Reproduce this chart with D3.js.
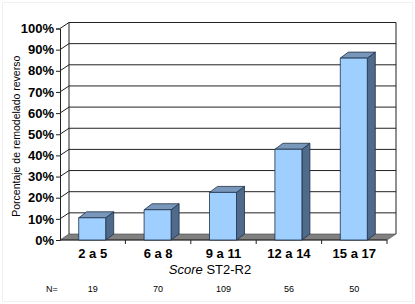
<!DOCTYPE html>
<html>
<head>
<meta charset="utf-8">
<script src="https://cdn.jsdelivr.net/npm/d3@7"></script>
<style>
  body { margin: 0; background: #fff; }
  svg text { font-family: Arial, "Liberation Sans", sans-serif; }
</style>
</head>
<body>
<div id="chart"></div>
<script>
// Data
const categories = ["2 a 5", "6 a 8", "9 a 11", "12 a 14", "15 a 17"];
const values = [0.105, 0.143, 0.225, 0.429, 0.86];
const counts = [19, 70, 109, 56, 50];
const yTicks = [0, 0.1, 0.2, 0.3, 0.4, 0.5, 0.6, 0.7, 0.8, 0.9, 1.0];

const W = 415, H = 304;
const plotLeft = 60, plotRight = 387, plotBottom = 240, plotTop = 28.5;
const wallDx = 9, wallDy = 6;   // depth of back wall
const barDx = 8, barDy = 6;     // depth of bars
const barW = 27;

const svg = d3.select("#chart").append("svg")
    .attr("width", W).attr("height", H);

// faint frame
svg.append("rect")
    .attr("x", 2.5).attr("y", 2.5).attr("width", W - 5).attr("height", H - 5)
    .attr("fill", "none").attr("stroke", "#f0f0f0");

const x = d3.scaleBand().domain(categories).range([plotLeft, plotRight]);
const y = d3.scaleLinear().domain([0, 1]).range([plotBottom, plotTop]);

// floor
svg.append("path")
    .attr("d", `M${plotLeft},${plotBottom} L${plotRight},${plotBottom} L${plotRight + wallDx},${plotBottom - wallDy} L${plotLeft + wallDx},${plotBottom - wallDy} Z`)
    .attr("fill", "#808080").attr("stroke", "#404040").attr("stroke-width", 0.6);

// gridlines (side wall diagonal + back wall horizontal)
yTicks.filter(t => t > 0).forEach(t => {
    const yy = y(t);
    svg.append("path")
        .attr("d", `M${plotLeft},${yy} L${plotLeft + wallDx},${yy - wallDy} L${plotRight + wallDx},${yy - wallDy}`)
        .attr("fill", "none").attr("stroke", "#222").attr("stroke-width", 1);
});

// back wall verticals
svg.append("line")
    .attr("x1", plotLeft + wallDx).attr("x2", plotLeft + wallDx)
    .attr("y1", y(1) - wallDy).attr("y2", plotBottom - wallDy)
    .attr("stroke", "#222");
svg.append("line")
    .attr("x1", plotRight + wallDx).attr("x2", plotRight + wallDx)
    .attr("y1", y(1) - wallDy).attr("y2", plotBottom - wallDy)
    .attr("stroke", "#222");

// y axis
const yAxis = svg.append("g")
    .attr("transform", `translate(${plotLeft},0)`)
    .call(d3.axisLeft(y).tickValues(yTicks).tickSize(4).tickPadding(2)
        .tickFormat(d => Math.round(d * 100) + "%"));
yAxis.select(".domain").attr("stroke", "#222");
yAxis.selectAll(".tick line").attr("stroke", "#222");
yAxis.selectAll("text")
    .style("font-size", "13px").style("font-weight", "bold").attr("fill", "#000");

// x axis front line and boundary ticks
svg.append("line")
    .attr("x1", plotLeft).attr("x2", plotRight).attr("y1", plotBottom).attr("y2", plotBottom)
    .attr("stroke", "#222");
categories.forEach((c, i) => {
    const xx = x(c) + x.bandwidth();
    svg.append("line")
        .attr("x1", xx).attr("x2", xx).attr("y1", plotBottom).attr("y2", plotBottom + 4)
        .attr("stroke", "#222");
});

// x labels
const xAxis = svg.append("g")
    .attr("transform", `translate(0,${plotBottom})`)
    .call(d3.axisBottom(x).tickSize(0).tickPadding(9));
xAxis.select(".domain").remove();
xAxis.selectAll("text")
    .style("font-size", "13px").style("font-weight", "bold").attr("fill", "#000");

// bars
const bars = svg.append("g");
categories.forEach((c, i) => {
    const x0 = x(c) + x.bandwidth() / 2 - barW / 2 - 0.5;
    const yv = y(values[i]);
    const g = bars.append("g")
        .attr("stroke", "#1e3048").attr("stroke-width", 0.8).attr("stroke-linejoin", "round");
    g.append("path")
        .attr("d", `M${x0 + barW},${yv} L${x0 + barW + barDx},${yv - barDy} L${x0 + barW + barDx},${plotBottom - barDy} L${x0 + barW},${plotBottom} Z`)
        .attr("fill", "#4f6a8a");
    g.append("path")
        .attr("d", `M${x0},${yv} L${x0 + barDx},${yv - barDy} L${x0 + barW + barDx},${yv - barDy} L${x0 + barW},${yv} Z`)
        .attr("fill", "#7897bb");
    g.append("rect")
        .attr("x", x0).attr("y", yv).attr("width", barW).attr("height", plotBottom - yv)
        .attr("fill", "#9ecfff");
});

// x title
const xt = svg.append("text")
    .attr("x", 210).attr("y", 274)
    .attr("text-anchor", "middle")
    .style("font-size", "13px");
xt.append("tspan").style("font-style", "italic").text("Score");
xt.append("tspan").text(" ST2-R2");

// y title
svg.append("text")
    .attr("transform", `translate(20,${(plotTop + plotBottom) / 2 + 2}) rotate(-90)`)
    .attr("text-anchor", "middle")
    .style("font-size", "10.5px")
    .text("Porcentaje de remodelado reverso");

// N row
svg.append("text")
    .attr("x", 52).attr("y", 292).attr("text-anchor", "middle")
    .style("font-size", "9px").text("N=");
categories.forEach((c, i) => {
    svg.append("text")
        .attr("x", x(c) + x.bandwidth() / 2).attr("y", 292)
        .attr("text-anchor", "middle")
        .style("font-size", "9px")
        .text(counts[i]);
});
</script>
</body>
</html>
